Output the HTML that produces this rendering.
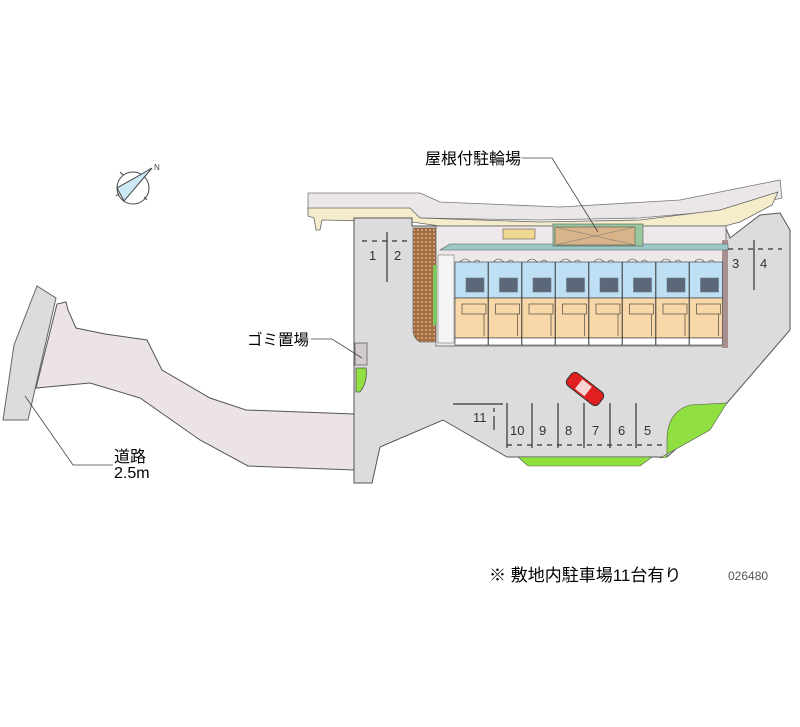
<!DOCTYPE html>
<html><head><meta charset="utf-8">
<style>
html,body{margin:0;padding:0;background:#fff;}
svg{display:block;}
text{font-family:"Liberation Sans","Noto Sans CJK JP",sans-serif;}
</style></head>
<body>
<svg width="800" height="727" viewBox="0 0 800 727" xmlns="http://www.w3.org/2000/svg">
<rect width="800" height="727" fill="#fff"/>

<path d="M3,420 L14,345 L37,286 L56,298 L36,385 L28,420 Z" fill="#dcdcdc" stroke="#666" stroke-width="1"/>
<path d="M36,388 L57,304 L66,302 L68,310 L76,328 L105,334 L147,340 L162,370 L210,398 L246,410 L354,414 L354,470 L248,466 L200,440 L140,398 L90,383 Z" fill="#ece4e4" stroke="#555" stroke-width="1"/>

<path d="M308,193 L420,193 L440,202 L560,207 L680,200 L780,180 L782,198 L730,210 L640,218 L540,220 L420,218 L408,210 L308,210 Z" fill="#ebe6e8" stroke="#777" stroke-width="0.8"/>
<path d="M308,208 L410,208 L420,218 L540,222 L640,220 L720,210 L778,192 L772,205 L740,222 L690,235 L640,232 L540,230 L440,226 L412,222 L322,220 L320,230 L316,230 L314,218 L308,216 Z" fill="#f5eccb" stroke="#666" stroke-width="0.8"/>

<path d="M354,218 L412,218 L412,226 L725,226 L730,238 L760,215 L780,213 L790,230 L790,330 L727,403 L667,457 L507,457 L443,420 L380,447 L372,483 L354,483 Z" fill="#dcdcdc" stroke="#555" stroke-width="1"/>

<rect x="355" y="343" width="12" height="22" fill="#d4cccc" stroke="#777"/>
<path d="M356,368 L366,368 Q368,382 360,392 L356,392 Z" fill="#8fe040" stroke="#555" stroke-width="0.8"/>

<defs>
<pattern id="hp" width="4" height="4" patternUnits="userSpaceOnUse">
<rect width="4" height="4" fill="#a0703a"/><circle cx="2" cy="2" r="1" fill="#e8a0a0"/>
</pattern>
</defs>
<path d="M413,228 L436,228 L436,342 L420,342 Q413,338 413,330 Z" fill="url(#hp)" stroke="#555" stroke-width="0.6"/>

<rect x="436" y="226" width="290" height="120" fill="#efe8ea" stroke="#666" stroke-width="0.8"/>
<rect x="722" y="240" width="6" height="108" fill="#a89090"/>
<path d="M440,250 L450,244 L728,244 L728,250 Z" fill="#9cc8c8" stroke="#555" stroke-width="0.6"/>
<rect x="553" y="224" width="90" height="22" fill="#9cc8a0" stroke="#555" stroke-width="0.6"/>
<rect x="555" y="227" width="80" height="18" fill="#d9b48a" stroke="#555" stroke-width="0.6"/>
<path d="M555,227 L635,245 M635,227 L555,245" stroke="#777" stroke-width="0.6"/>
<rect x="503" y="229" width="32" height="10" fill="#f0d890" stroke="#555" stroke-width="0.6"/>
<rect x="438" y="255" width="16" height="88" fill="#f5f5f5" stroke="#777" stroke-width="0.6"/>
<rect x="433" y="265" width="4" height="60" fill="#7ec860"/>

<g stroke="#333" stroke-width="0.6">
<g id="u">
<rect x="455" y="262" width="33" height="36" fill="#bfe0f4"/>
<rect x="455" y="298" width="33" height="40" fill="#f8d8a8"/>
<rect x="455" y="338" width="33" height="7" fill="#fff"/>
<rect x="466" y="278" width="18" height="14" fill="#1a1a2a" opacity="0.6"/>
<path d="M460,262 q5,-6 10,0 M474,262 q3,-4 6,0" fill="none"/>
<rect x="462" y="304" width="24" height="10" fill="none"/>
<path d="M484,314 L484,336" fill="none"/>
</g>
<use href="#u" x="33.5"/><use href="#u" x="67"/><use href="#u" x="100.5"/>
<use href="#u" x="134"/><use href="#u" x="167.5"/><use href="#u" x="201"/><use href="#u" x="234.5"/>
</g>

<g stroke="#333" stroke-width="1.2" fill="none">
<path d="M362,241 L412,241" stroke-dasharray="5,5"/>
<path d="M387,232 L387,282"/>
<path d="M728,249 L782,249" stroke-dasharray="5,5"/>
<path d="M754,240 L754,290"/>
<path d="M453,404 L503,404"/>
<path d="M494,408 L494,428 M494,420 L494,430" stroke-dasharray="4,4"/>
<path d="M507,403 L507,448 M532,403 L532,448 M558,403 L558,448 M584,403 L584,448 M610,403 L610,448 M636,403 L636,448"/>
<path d="M507,445 L663,445" stroke-dasharray="5,5"/>
</g>
<g font-size="13" fill="#333">
<text x="369" y="260">1</text><text x="394" y="260">2</text>
<text x="732" y="268">3</text><text x="760" y="268">4</text>
<text x="473" y="422">11</text>
<text x="510" y="435">10</text><text x="539" y="435">9</text><text x="565" y="435">8</text>
<text x="592" y="435">7</text><text x="618" y="435">6</text><text x="644" y="435">5</text>
</g>

<path d="M667,440 Q667,412 690,405 L727,403 L710,430 L660,458 L667,457 Z" fill="#8fe040" stroke="#555" stroke-width="0.6"/>
<path d="M518,457 L652,457 L640,466 L528,466 Z" fill="#8fe040" stroke="#555" stroke-width="0.6"/>

<g transform="translate(585,389) rotate(38)">
<rect x="-20" y="-8" width="40" height="16" rx="5" fill="#e02020" stroke="#333" stroke-width="1"/>
<rect x="-8" y="-6" width="12" height="12" fill="#fff" opacity="0.8"/>
</g>

<g stroke="#444" stroke-width="1" fill="none">
<circle cx="133" cy="188" r="16"/>
<path d="M152,168 L117,188 L124,201 Z" fill="#cce8f4"/>
<path d="M120,172 l3,3 M147,200 l-3,-3 M116,196 l3,-2"/>
</g>
<text x="154" y="170" font-size="8" fill="#444">N</text>

<g fill="#000">
<text x="425" y="164" font-size="16">屋根付駐輪場</text>
<text x="247" y="345" font-size="15.5">ゴミ置場</text>
<text x="114" y="462" font-size="16">道路</text>
<text x="114" y="478" font-size="16">2.5m</text>
<text x="489" y="581" font-size="17">※ 敷地内駐車場11台有り</text>
</g>
<text x="728" y="580" font-size="12" fill="#555">026480</text>
<g stroke="#444" stroke-width="0.8" fill="none">
<path d="M522,158 L552,158 L598,232"/>
<path d="M311,339 L332,339 L362,358"/>
<path d="M25,396 L73,465 L113,465"/>
</g>
</svg>
</body></html>
